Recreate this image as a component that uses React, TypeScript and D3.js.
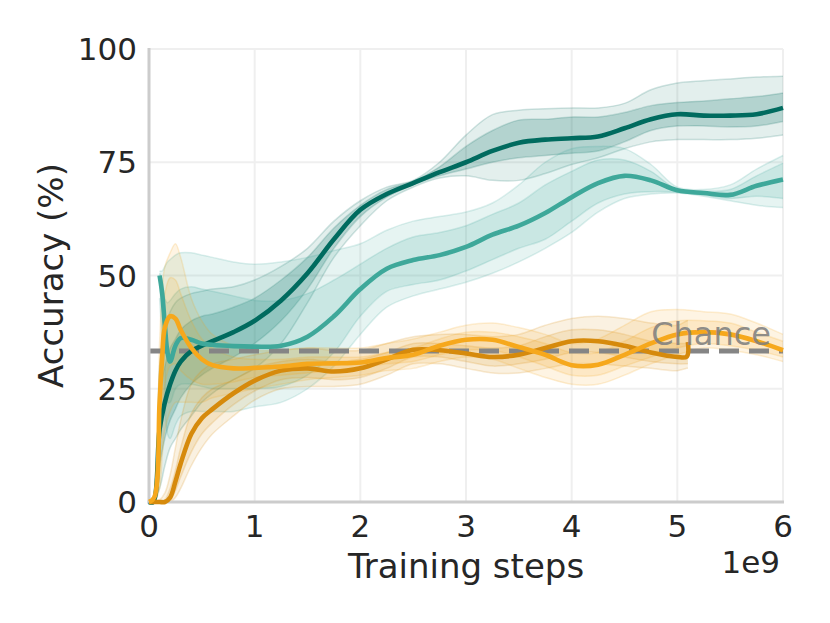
import { useEffect, useRef } from 'react';
import * as d3 from 'd3';

const width = 830;
const height = 623;
const [mt, mr, mb, ml] = [49, 47, 121, 149];

const xTicks = [0, 1, 2, 3, 4, 5, 6];
const yTicks = [0, 25, 50, 75, 100];
const chance = 100 / 3;

// [step (1e9), mean, outer lo, inner lo, inner hi, outer hi]
type Row = [number, number, number, number, number, number];

const darkTeal: Row[] = [
    [0, 0, 0, 0, 0, 0],
    [0.04, 0, 0, 0, 0, 0],
    [0.1, 16, 3, 8, 24, 30],
    [0.15, 22, 8, 14, 30, 38],
    [0.2, 26, 12, 18, 34, 42],
    [0.25, 29, 14, 20.5, 36, 44],
    [0.3, 31, 16, 23, 38, 45],
    [0.4, 33.3, 19, 26, 40, 46],
    [0.5, 34.5, 22, 28, 41, 46.5],
    [0.6, 35.5, 24, 29.5, 41.5, 47],
    [0.8, 37.5, 27, 32, 43, 47.5],
    [1.0, 40, 29.5, 35, 45, 49],
    [1.25, 44.5, 35, 40, 49, 52],
    [1.5, 50.5, 44, 47, 54, 56],
    [1.75, 58, 54, 56, 60.5, 62],
    [2.0, 64.5, 61, 63, 65.5, 66.5],
    [2.25, 68, 66.5, 67.3, 69, 69.5],
    [2.5, 70.4, 69.5, 70, 70.8, 71],
    [2.75, 72.8, 71.5, 72, 74, 75],
    [3.0, 75, 72, 73.5, 78.5, 81],
    [3.25, 77.5, 71, 75, 82, 85.5],
    [3.5, 79.3, 71, 76, 84.3, 86.5],
    [3.75, 80, 72.5, 76.5, 84.5, 86.8],
    [4.0, 80.3, 74.5, 77, 85, 87],
    [4.25, 80.7, 76, 77.5, 85, 87],
    [4.5, 82.5, 78, 79.5, 86, 88],
    [4.75, 84.5, 79.5, 82, 87.5, 91],
    [5.0, 85.6, 80, 83, 88.2, 92.5],
    [5.25, 85.3, 80, 83, 88.5, 93],
    [5.5, 85.3, 80, 82.8, 89, 93.4],
    [5.75, 85.6, 80.3, 83, 89.5, 93.8],
    [6.0, 87, 81, 84, 90.3, 94]
];

const midTeal: Row[] = [
    [0.1, 50, 45, 48, 50.5, 51],
    [0.125, 46, 35, 42, 49, 51],
    [0.15, 39, 22, 30, 45, 52],
    [0.175, 33, 15, 22, 44, 53],
    [0.2, 31, 14, 22, 44.5, 53.5],
    [0.25, 34.5, 17, 25, 46, 54.5],
    [0.3, 36.2, 19, 26, 47, 55],
    [0.4, 35.8, 20, 26, 47.5, 55],
    [0.5, 35, 20, 25.5, 47, 54.5],
    [0.6, 34.7, 20, 25, 46.5, 54],
    [0.8, 34.4, 20, 25, 45.5, 53],
    [1.0, 34.3, 21, 25, 44.5, 52.5],
    [1.25, 34.5, 22, 25.5, 44.5, 53],
    [1.5, 36.5, 25, 28, 46, 54],
    [1.75, 41, 30, 33, 49, 55.5],
    [2.0, 47, 37, 41, 52.5, 57],
    [2.25, 51.5, 43, 46.5, 56, 60],
    [2.5, 53.4, 45.5, 48, 58.5, 62],
    [2.75, 54.5, 47, 49, 59.5, 63],
    [3.0, 56.3, 48.5, 51, 61, 64],
    [3.25, 59, 50.5, 53.5, 63.5, 66],
    [3.5, 61, 53, 56, 66, 70],
    [3.75, 63.8, 56, 58, 70, 75],
    [4.0, 67.3, 59.5, 62, 73, 78],
    [4.25, 70.4, 64, 66, 75.5, 78.5],
    [4.5, 72, 67, 68, 75.5, 78],
    [4.75, 71, 68, 68.5, 73, 74.5],
    [5.0, 68.8, 68.2, 68.4, 69, 69.5],
    [5.25, 68.2, 67.5, 67.8, 68.6, 69],
    [5.5, 67.8, 66.5, 67, 69, 70],
    [5.75, 69.8, 65.5, 67.5, 72, 73.5],
    [6.0, 71.2, 65, 67, 74.8, 76.5]
];

const darkOrange: Row[] = [
    [0, 0, 0, 0, 0, 0],
    [0.1, 0, 0, 0, 0, 0.5],
    [0.15, 0, 0, 0, 0.5, 2],
    [0.2, 1, 0, 0.3, 3, 6],
    [0.25, 4.5, 1, 2.5, 7, 12],
    [0.3, 8.5, 3, 5.5, 12, 18],
    [0.4, 15, 8, 11, 19.5, 26],
    [0.5, 18.5, 12, 15, 23, 29],
    [0.6, 20.5, 15, 17.5, 25, 30.5],
    [0.8, 24, 19, 21.5, 27, 31.5],
    [1.0, 26.8, 22.5, 24.5, 29.5, 32.5],
    [1.25, 29, 25, 27, 31, 33.5],
    [1.5, 29.5, 25.5, 27.5, 31.5, 34],
    [1.75, 28.8, 25.5, 27, 31, 33.5],
    [2.0, 29.5, 26, 27.5, 31.5, 33.5],
    [2.25, 31.5, 28, 29.5, 33, 35],
    [2.5, 33.6, 30.5, 32, 35, 36.5],
    [2.75, 33.5, 30.5, 32, 35, 37],
    [3.0, 32.8, 29.5, 31, 34.5, 37],
    [3.25, 32, 28.5, 30, 34, 36.5],
    [3.5, 32.5, 28.5, 30.5, 34.5, 37],
    [3.75, 34, 29.5, 31.5, 36.5, 39],
    [4.0, 35.5, 30.5, 33, 38, 40.5],
    [4.25, 35.5, 30.5, 33, 38, 41],
    [4.5, 34.5, 30, 32, 37, 40.5],
    [4.75, 33, 29.5, 31, 35.5, 39.5],
    [5.0, 32, 29, 30.5, 35, 39],
    [5.09, 32.1, 29.5, 30.5, 35, 40],
    [5.1, 35.3, 29.5, 30.5, 35, 40]
];

const yellow: Row[] = [
    [0, 0, 0, 0, 0, 0],
    [0.05, 1, 0, 0, 1, 2],
    [0.1, 22, 3, 10, 28, 35],
    [0.125, 32, 10, 20, 40, 47],
    [0.15, 38.5, 16, 26, 46, 52],
    [0.2, 41, 20, 30, 49.5, 55],
    [0.25, 40.5, 22, 30.5, 49, 57],
    [0.3, 38, 22, 29, 46, 54],
    [0.4, 34, 22, 27, 40, 45],
    [0.5, 31.5, 22, 26, 36, 40],
    [0.6, 30.2, 23, 26, 34, 37],
    [0.8, 29.5, 24, 26.5, 32, 34.5],
    [1.0, 29.6, 25, 27.5, 31.5, 33.5],
    [1.25, 29.9, 26, 28, 31.5, 33.5],
    [1.5, 30.5, 27, 28.5, 32, 34],
    [1.75, 30.6, 27.5, 29, 32, 34],
    [2.0, 30.8, 28, 29.5, 32, 34],
    [2.25, 31.8, 29, 30.5, 33, 35],
    [2.5, 32.5, 29.5, 31, 34, 36],
    [2.75, 34.5, 31, 32.5, 36, 37.5],
    [3.0, 35.8, 32, 33.5, 37.5, 39],
    [3.25, 35.8, 31.5, 33.5, 37.5, 39.5],
    [3.5, 34.2, 29.5, 32, 36.5, 38.5],
    [3.75, 32.5, 27.5, 30, 35, 37],
    [4.0, 30.2, 26, 28, 33, 35],
    [4.25, 30.3, 26, 28, 33, 36],
    [4.5, 32.5, 28, 30, 35.5, 39],
    [4.75, 35, 30.5, 32, 38.5, 42],
    [5.0, 37, 32.5, 34, 40, 42.5],
    [5.25, 37.5, 34, 35, 40, 42],
    [5.5, 37, 33.5, 34.5, 39.5, 41.5],
    [5.75, 35.5, 32.5, 33.5, 37.5, 39.5],
    [6.0, 33.5, 31, 32, 35.5, 37]
];

const series = [
    { rows: darkTeal, color: '#006b5f', outer: 0.11, inner: 0.21 },
    { rows: midTeal, color: '#3ea89a', outer: 0.13, inner: 0.17 },
    { rows: darkOrange, color: '#d68a0c', outer: 0.12, inner: 0.15 },
    { rows: yellow, color: '#f6a81c', outer: 0.12, inner: 0.15 }
];

const font = 'DejaVu Sans';
const ink = '#262626';

export default function App() {
    const ref = useRef<SVGSVGElement>(null);

    useEffect(() => {
        const svg = d3.select(ref.current);
        svg.selectAll('*').remove();

        const x = d3.scaleLinear().domain([0, 6]).range([ml, width - mr]);
        const y = d3.scaleLinear().domain([0, 100]).range([height - mb, mt]);

        // grid
        const grid = svg.append('g').attr('stroke', '#efefef').attr('stroke-width', 2);
        grid.selectAll('.gy')
            .data(yTicks.slice(1))
            .join('line')
            .attr('x1', x(0))
            .attr('x2', x(6))
            .attr('y1', (d) => y(d))
            .attr('y2', (d) => y(d));
        grid.selectAll('.gx')
            .data(xTicks.slice(1))
            .join('line')
            .attr('x1', (d) => x(d))
            .attr('x2', (d) => x(d))
            .attr('y1', y(0))
            .attr('y2', y(100));

        // bands
        const curve = d3.curveCatmullRom.alpha(0.5);
        const bandG = svg.append('g');
        series.forEach((s) => {
            const area = (lo: number, hi: number) =>
                d3
                    .area<Row>()
                    .curve(curve)
                    .x((d) => x(d[0]))
                    .y0((d) => y(d[lo]))
                    .y1((d) => y(d[hi]));
            bandG.append('path').attr('d', area(2, 5)(s.rows)).attr('fill', s.color).attr('fill-opacity', s.outer);
            bandG.append('path').attr('d', area(3, 4)(s.rows)).attr('fill', s.color).attr('fill-opacity', s.inner);
            [2, 3, 4, 5].forEach((k) => {
                const edge = d3
                    .line<Row>()
                    .curve(curve)
                    .x((d) => x(d[0]))
                    .y((d) => y(d[k]));
                bandG
                    .append('path')
                    .attr('d', edge(s.rows))
                    .attr('fill', 'none')
                    .attr('stroke', s.color)
                    .attr('stroke-opacity', 0.18)
                    .attr('stroke-width', 1.5);
            });
        });

        // chance level
        svg.append('line')
            .attr('x1', x(0))
            .attr('x2', x(6))
            .attr('y1', y(chance))
            .attr('y2', y(chance))
            .attr('stroke', '#858585')
            .attr('stroke-width', 5)
            .attr('stroke-dasharray', '20,10');

        // spines
        svg.append('line')
            .attr('x1', x(0))
            .attr('x2', x(0))
            .attr('y1', y(100) - 1)
            .attr('y2', y(0) + 1.5)
            .attr('stroke', '#cccccc')
            .attr('stroke-width', 3);
        svg.append('line')
            .attr('x1', x(0) - 1.5)
            .attr('x2', x(6) + 1)
            .attr('y1', y(0))
            .attr('y2', y(0))
            .attr('stroke', '#cccccc')
            .attr('stroke-width', 3);

        // mean lines
        series.forEach((s) => {
            const line = d3
                .line<Row>()
                .curve(curve)
                .x((d) => x(d[0]))
                .y((d) => y(d[1]));
            svg.append('path')
                .attr('d', line(s.rows))
                .attr('fill', 'none')
                .attr('stroke', s.color)
                .attr('stroke-width', 4.6)
                .attr('stroke-linejoin', 'round');
        });

        // tick labels
        const text = svg.append('g').attr('font-family', font).attr('fill', ink);
        text.selectAll('.tx')
            .data(xTicks)
            .join('text')
            .attr('x', (d) => x(d))
            .attr('y', y(0) + 35)
            .attr('text-anchor', 'middle')
            .attr('font-size', 31)
            .text((d) => d);
        text.selectAll('.ty')
            .data(yTicks)
            .join('text')
            .attr('x', x(0) - 12)
            .attr('y', (d) => y(d))
            .attr('dy', '0.36em')
            .attr('text-anchor', 'end')
            .attr('font-size', 31)
            .text((d) => d);
        text.append('text')
            .attr('x', x(6) - 3)
            .attr('y', y(0) + 71)
            .attr('text-anchor', 'end')
            .attr('font-size', 31)
            .text('1e9');
        text.append('text')
            .attr('x', (x(0) + x(6)) / 2)
            .attr('y', y(0) + 76)
            .attr('text-anchor', 'middle')
            .attr('font-size', 34)
            .text('Training steps');
        text.append('text')
            .attr('transform', `translate(63,${(y(0) + y(100)) / 2}) rotate(-90)`)
            .attr('text-anchor', 'middle')
            .attr('font-size', 34)
            .text('Accuracy (%)');

        svg.append('text')
            .attr('x', x(6) - 12)
            .attr('y', y(chance) - 6)
            .attr('text-anchor', 'end')
            .attr('font-family', font)
            .attr('font-size', 32)
            .attr('fill', '#808080')
            .attr('fill-opacity', 0.9)
            .text('Chance');
    }, []);

    return (
        <svg
            ref={ref}
            width={width}
            height={height}
            style={{ position: 'absolute', left: 0, top: 0, background: '#fff' }}
        />
    );
}
